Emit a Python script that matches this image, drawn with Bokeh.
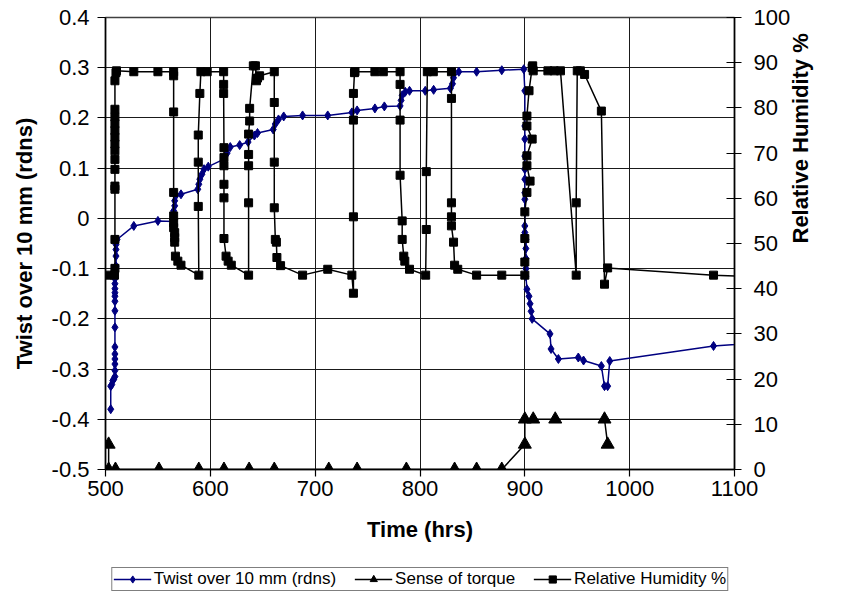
import math
from bokeh.plotting import figure
from bokeh.layouts import column
from bokeh.models import Range1d, LinearAxis, FixedTicker, Legend, LegendItem
from bokeh.embed import file_html
from bokeh.resources import INLINE

# ---- data ----
time_ticks = [500, 600, 700, 800, 900, 1000, 1100]
twist_ticks = [-0.5, -0.4, -0.3, -0.2, -0.1, 0, 0.1, 0.2, 0.3, 0.4]
twist_tick_labels = ["-0.5", "-0.4", "-0.3", "-0.2", "-0.1", "0", "0.1", "0.2", "0.3", "0.4"]
rh_ticks = [0, 10, 20, 30, 40, 50, 60, 70, 80, 90, 100]

twist_time = [505, 505, 506, 507, 508, 509, 509, 509, 509, 509, 509, 509, 509, 509, 509, 509,
              509, 509, 509, 509, 510, 510, 510, 510, 511, 527, 550, 565, 565, 565, 566, 566,
              567, 572, 588, 589, 590, 592, 594, 598, 613, 616, 619, 628, 636, 642, 645, 660,
              662, 665, 670, 688, 712, 735, 740, 757, 766, 781, 782, 783, 786, 790, 805, 813,
              829, 831, 832, 837, 854, 878, 899, 900, 900, 900, 900, 900, 900, 900, 900, 900,
              900, 900, 901, 901, 901, 901, 901, 902, 904, 905, 906, 907, 924, 925, 932, 951,
              956, 973, 976, 979, 981, 1080, 1130]
twist_val = [-0.380, -0.334, -0.331, -0.323, -0.320, -0.315, -0.303, -0.290, -0.280, -0.270,
             -0.256, -0.217, -0.184, -0.165, -0.155, -0.148, -0.140, -0.130, -0.120, -0.110,
             -0.095, -0.075, -0.062, -0.052, -0.042, -0.015, -0.005, -0.006, 0.005, 0.015,
             0.025, 0.035, 0.045, 0.048, 0.058, 0.068, 0.078, 0.088, 0.098, 0.103, 0.118,
             0.130, 0.142, 0.146, 0.152, 0.165, 0.170, 0.177, 0.188, 0.197, 0.203, 0.205,
             0.205, 0.211, 0.215, 0.219, 0.223, 0.224, 0.235, 0.245, 0.252, 0.254, 0.254,
             0.256, 0.259, 0.268, 0.280, 0.292, 0.292, 0.295, 0.297, 0.254, 0.184, 0.158,
             0.124, 0.098, 0.078, 0.051, 0.038, 0.012, -0.015, -0.028, -0.042, -0.060,
             -0.080, -0.100, -0.115, -0.141, -0.155, -0.170, -0.185, -0.200, -0.230, -0.260,
             -0.280, -0.277, -0.283, -0.294, -0.334, -0.334, -0.284, -0.254, -0.247]

torque_time = [503, 503, 509.5, 551, 589, 613, 637, 661, 713, 740, 787, 833, 854, 878,
               900, 900, 908, 929, 976, 979]
torque_val = [-0.45, -0.5, -0.5, -0.5, -0.5, -0.5, -0.5, -0.5, -0.5, -0.5, -0.5, -0.5, -0.5,
              -0.5, -0.45, -0.4, -0.4, -0.4, -0.4, -0.45]

rh_time = [502, 508.6, 509, 509, 509, 509, 509, 509, 509, 509, 509, 509, 509, 509, 509, 509,
           510, 510.5, 527, 550, 565, 565, 565, 565, 565, 565, 565, 566, 566, 566, 566.7, 569,
           572, 589, 588.5, 588.5, 588.5, 590, 591, 597, 612.7, 612.7, 612.7, 613, 613, 613,
           613, 613, 613, 615, 617, 620, 636.5, 636.5, 636.5, 636.5, 636.5, 637.5, 637.5, 641,
           643, 644, 645, 647, 661, 661, 661, 661, 662, 663, 663.5, 667, 688, 712, 735, 736.5,
           736.5, 736.5, 736.5, 737.5, 738, 757, 765, 781, 781, 781, 781, 783, 783, 784.5,
           785.5, 790, 805.4, 806, 806, 807, 812.7, 830, 830, 830, 830, 830, 832, 833, 836,
           854, 878, 900, 900, 900, 900, 902, 905, 902, 902, 907, 902, 902, 904, 907, 907.5,
           908, 922, 928, 934, 949, 949, 950, 953, 957, 973, 976, 979, 1080, 1130]
rh_val = [43, 43, 44.5, 50.9, 62.0, 62.7, 66.4, 68.6, 70.5, 72.0, 73.5, 75.0, 76.5, 78.0, 79.7,
          86.0, 87.8, 88.2, 88, 88, 88, 87.1, 79.1, 61.3, 56.1, 54.6, 53.5, 52.4, 51.3, 50.3,
          47.2, 46.1, 45.2, 43, 58.2, 68.0, 74.0, 83.2, 88, 88, 88, 85.2, 83.2, 71.2, 69.0,
          67.2, 63.1, 60.1, 51.1, 47.2, 46.1, 45.2, 43, 59.0, 67.2, 69.7, 74.2, 77.1, 79.9,
          89.3, 89.3, 86.0, 86.6, 87.1, 88, 81.2, 68.0, 57.9, 50.9, 50.3, 46.9, 45.1, 43,
          44.3, 43, 39.0, 55.9, 77.3, 83.2, 87.8, 88, 88, 88, 88, 85.2, 77.3, 65.1, 55.0,
          50.9, 47.2, 46.1, 44.3, 43, 53.1, 65.9, 88, 88, 88, 82.1, 59.0, 55.9, 53.9, 50.3,
          45.2, 44.3, 43, 43, 43, 45.9, 51.1, 57.0, 61.3, 63.8, 67.2, 69.4, 73.1, 76.0, 78.2,
          83.8, 88.9, 89.3, 88.2, 88.2, 88.2, 88.2, 43, 59.0, 88.2, 88.2, 87.4, 79.3, 41.0,
          44.6, 43, 42.5]

series_labels = ["Twist over 10 mm (rdns)", "Sense of torque", "Relative Humidity %"]

# ---- styles ----
FONT = "Liberation Sans"
FS = "22px"
navy = "#000080"


def draw_series(fig, rh_range_name=None):
    kw = {} if rh_range_name is None else {"y_range_name": rh_range_name}
    tw_l = fig.line(twist_time, twist_val, line_color=navy, line_width=1.5)
    tw_s = fig.scatter(twist_time, twist_val, marker="diamond", size=9,
                       fill_color=navy, line_color=navy)
    tq_l = fig.line(torque_time, torque_val, line_color="black", line_width=1.5)
    tq_s = fig.scatter(torque_time, torque_val, marker="triangle", size=13,
                       fill_color="black", line_color="black")
    rh_l = fig.line(rh_time, rh_val, line_color="black", line_width=1.5, **kw)
    rh_s = fig.scatter(rh_time, rh_val, marker="square", size=8,
                       fill_color="black", line_color="black", **kw)
    return [[tw_l, tw_s], [tq_l, tq_s], [rh_l, rh_s]]


# ---- main chart ----
p = figure(width=828, height=565, x_range=Range1d(500, 1100), y_range=Range1d(-0.5, 0.4),
           output_backend="svg", toolbar_location=None,
           min_border_left=105, min_border_right=93, min_border_top=17, min_border_bottom=96)
p.extra_y_ranges = {"rh": Range1d(0, 100)}
p.background_fill_color = "white"
p.border_fill_color = "white"
p.outline_line_color = "#404040"
p.outline_line_width = 1.5

xa = p.xaxis[0]
xa.ticker = FixedTicker(ticks=time_ticks)
xa.axis_label = "Time (hrs)"
xa.major_tick_out = 7
xa.major_tick_in = 0
xa.minor_tick_out = 0
xa.minor_tick_in = 0
xa.major_label_standoff = 4
xa.axis_label_standoff = 18

ya = p.yaxis[0]
ya.ticker = FixedTicker(ticks=twist_ticks)
ya.major_label_overrides = {t: l for t, l in zip(twist_ticks, twist_tick_labels)}
ya.axis_label = "Twist over 10 mm (rdns)"
ya.major_tick_out = 8
ya.major_tick_in = 0
ya.minor_tick_out = 0
ya.minor_tick_in = 0
ya.major_label_standoff = 8
ya.axis_label_standoff = 12

ra = LinearAxis(y_range_name="rh", ticker=FixedTicker(ticks=rh_ticks),
                axis_label="Relative Humidity %")
ra.major_tick_out = 7
ra.major_tick_in = 8
ra.minor_tick_out = 0
ra.minor_tick_in = 0
ra.major_label_standoff = 12
ra.axis_label_standoff = 7
ra.axis_label_orientation = math.pi / 2
p.add_layout(ra, "right")

for ax in (xa, ya, ra):
    ax.axis_line_color = "black"
    ax.axis_line_width = 1.5
    ax.major_tick_line_color = "black"
    ax.major_tick_line_width = 1.2
    ax.major_label_text_font = FONT
    ax.major_label_text_font_size = FS
    ax.major_label_text_color = "black"
    ax.axis_label_text_font = FONT
    ax.axis_label_text_font_size = FS
    ax.axis_label_text_font_style = "bold"
    ax.axis_label_text_color = "black"

p.xgrid.grid_line_color = "#1a1a1a"
p.xgrid.grid_line_width = 1
p.ygrid.grid_line_color = "#1a1a1a"
p.ygrid.grid_line_width = 1

draw_series(p, "rh")

# ---- legend strip below the chart (same series, drawn off-view, only the key shows) ----
lg = figure(width=828, height=27, x_range=Range1d(0, 1), y_range=Range1d(0, 1),
            x_axis_type=None, y_axis_type=None, output_backend="svg",
            toolbar_location=None, min_border=0)
lg.outline_line_color = None
lg.background_fill_color = "white"
lg.border_fill_color = "white"
key_renderers = draw_series(lg)

legend = Legend(items=[LegendItem(label=lab, renderers=rr)
                       for lab, rr in zip(series_labels, key_renderers)],
                orientation="horizontal", location="center")
legend.label_text_font = FONT
legend.label_text_font_size = "17px"
legend.label_text_color = "black"
legend.glyph_width = 38
legend.glyph_height = 18
legend.label_standoff = 3
legend.spacing = 18
legend.padding = 1
legend.margin = 0
legend.border_line_color = "black"
legend.border_line_width = 1
legend.background_fill_color = "white"
legend.background_fill_alpha = 1
lg.add_layout(legend, "center")

layout = column(p, lg, spacing=0)
open("out.html", "w").write(file_html(layout, INLINE))
